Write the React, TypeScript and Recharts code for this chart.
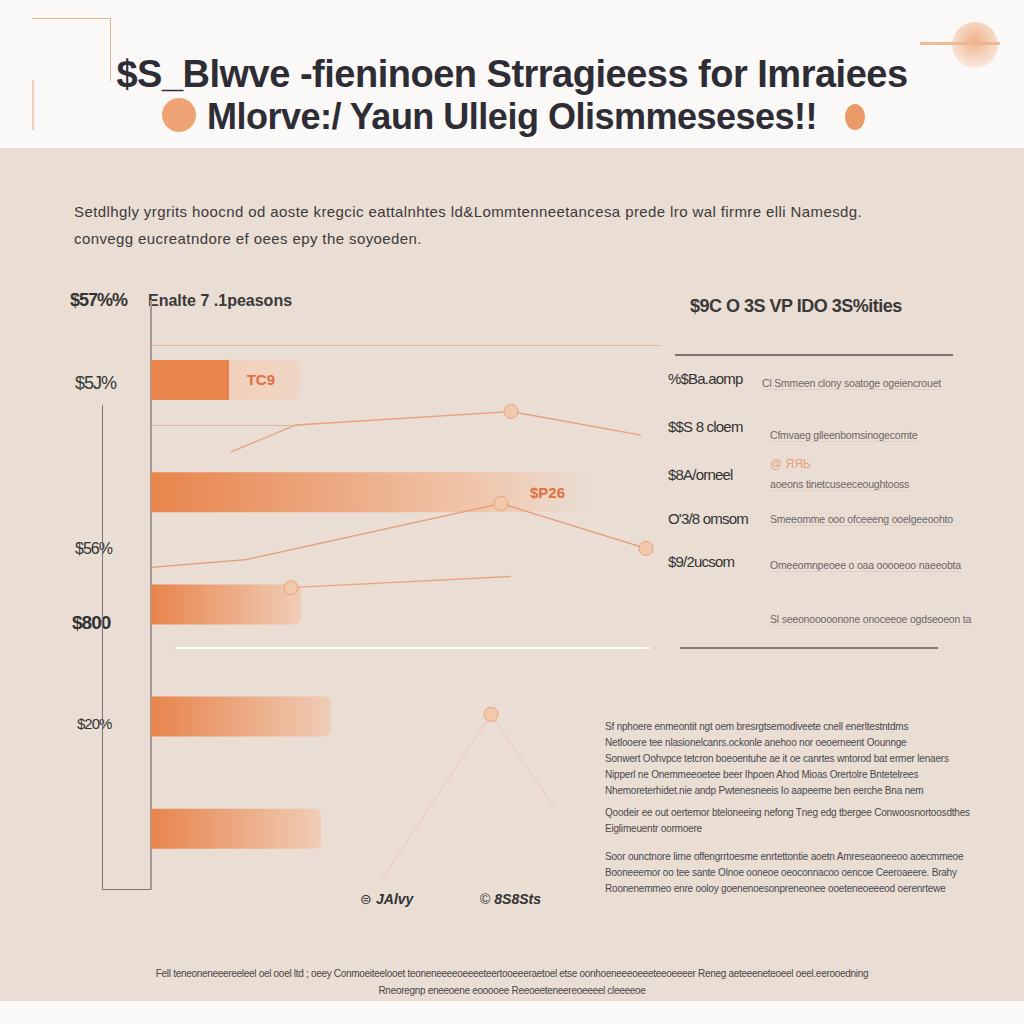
import { BarChart, Bar, XAxis, YAxis, Cell, LabelList, LineChart, Line } from 'recharts';

const TITLE_LINES = ['$S_Blwve -fieninoen Strragieess for Imraiees', 'Mlorve:/ Yaun Ulleig Olismmeseses!!'];
const SUBTITLE_LINES = [
  'Setdlhgly yrgrits hoocnd od aoste kregcic eattalnhtes ld&Lommtenneetancesa prede lro wal firmre elli Namesdg.',
  'convegg eucreatndore ef oees epy the soyoeden.',
];

const CATEGORIES = ['r1', 'r2', 'r3', 'r4', 'r5'];
const BAR_VALUES = [30, 88, 30, 36, 34];
const BAR_TAGS = ['TC9', '$P26', '', '', ''];
const SIDE_LABELS = ['$57%%', '$5J%', '$56%', '$800', '$20%'];

const TREND_A = [
  { x: 16, y: 1.14, m: 0 }, { x: 29, y: 0.9, m: 0 }, { x: 72, y: 0.78, m: 1 }, { x: 98, y: 0.99, m: 0 },
];
const TREND_B = [
  { x: 0, y: 2.17, m: 0 }, { x: 19, y: 2.1, m: 0 }, { x: 70, y: 1.6, m: 1 }, { x: 99, y: 2.0, m: 1 },
];
const TREND_C = [{ x: 28, y: 2.35, m: 1 }, { x: 72, y: 2.25, m: 0 }];
const TREND_D = [{ x: 46, y: 4.96, m: 0 }, { x: 68, y: 3.48, m: 1 }, { x: 81, y: 4.33, m: 0 }];

const PANEL_ROWS = ['%$Ba.aomp', '$$S 8 cloem', '$8A/orneel', 'O\'3/8 omsom', '$9/2ucsom'];
const PANEL_NOTES = [
  'Cl Smmeen clony soatoge ogeiencrouet',
  'Cfmvaeg glleenbomsinogecomte',
  'aoeons tinetcuseeceoughtooss',
  'Smeeomme ooo ofceeeng ooelgeeoohto',
  'Omeeomnpeoee o oaa ooooeoo naeeobta',
  'Sl seeonooooonone onoceeoe ogdseoeon ta',
];

const NOTES_A = [
  'Sf nphoere enmeontit ngt oem bresrgtsemodiveete cnell enerltestntdms',
  'Netlooere tee nlasionelcanrs.ockonle anehoo nor oeoerneent Oounnge',
  'Sonwert Oohvpce tetcron boeoentuhe ae it oe canrtes wntorod bat ermer lenaers',
  'Nipperl ne Onemmeeoetee beer Ihpoen Ahod Mioas Orertolre Bntetelrees',
  'Nhemoreterhidet.nie andp Pwtenesneeis Io aapeeme ben eerche Bna nem',
];
const NOTES_B = [
  'Qoodeir ee out oertemor bteloneeing nefong Tneg edg tbergee Conwoosnortoosdthes',
  'Eiglimeuentr oormoere',
];
const NOTES_C = [
  'Soor ounctnore lirne offengrrtoesme enrtettontie aoetn Amreseaoneeoo aoecmmeoe',
  'Booneeemor oo tee sante Olnoe ooneoe oeoconnacoo oencoe Ceeroaeere. Brahy',
  'Roonenemmeo enre ooloy  goenenoesonpreneonee ooeteneoeeeod oerenrtewe',
];
const FOOTER_LINES = [
  'Fell teneoneneeereeleel oel ooel ltd ; oeey Conmoeiteelooet teoneneeeeoeeeeteertooeeeraetoel etse oonhoeneeeoeeeteeoeeeer Reneg aeteeeneteoeel oeel.eerooedning',
  'Rneoregnp eneeoene eooooee Reeoeeteneereoeeeel cleeeeoe',
];
const LEGEND_ITEMS = ['JAlvy', '8S8Sts'];

const ORANGE = '#e8844c';
const INK = '#2e2d35';
const BG = '#e9ddd4';

const bars = CATEGORIES.map((c, i) => ({ cat: c, value: BAR_VALUES[i], tag: BAR_TAGS[i] }));

function Marker(props: any) {
  const { cx, cy, payload, index } = props;
  if (!payload.m) return <g key={index} />;
  return (
    <g key={index}>
      <circle cx={cx} cy={cy} r={7} fill="#f3c9ad" stroke="#e9a27c" strokeWidth={1} />
    </g>
  );
}

const abs = (left: number, top: number, extra: any = {}) => ({ position: 'absolute' as const, left, top, ...extra });

export default function App() {
  const sans = '"Liberation Sans", Arial, sans-serif';
  return (
    <div style={{ position: 'absolute', left: 0, top: 0, width: 1024, height: 1024, background: '#fbf9f8', fontFamily: sans, overflow: 'hidden' }}>
      {/* header decoration */}
      <div style={abs(32, 18, { width: 78, height: 62, borderTop: '1.5px solid #eab593', borderRight: '1.5px solid #eab593' })} />
      <div style={abs(32, 80, { width: 2, height: 50, background: '#f0cdb8' })} />
      <div style={abs(920, 42, { width: 80, height: 3, background: '#f0b996' })} />
      <div style={abs(952, 22, { width: 46, height: 46, borderRadius: '50%', background: 'radial-gradient(circle at 50% 40%, #f0b28a, rgba(251,249,248,0))' })} />
      <div style={abs(162, 98, { width: 34, height: 34, borderRadius: '50%', background: '#eda373' })} />
      <div style={abs(845, 104, { width: 20, height: 26, borderRadius: '50%', background: '#ea9a68' })} />

      {TITLE_LINES.map((t, i) => (
        <div key={t} style={abs(0, 52 + i * 43, { width: 1024, textAlign: 'center', fontSize: i === 0 ? 38 : 36, fontWeight: 700, color: INK, letterSpacing: -0.5, lineHeight: '44px' })}>{t}</div>
      ))}

      {/* beige panel */}
      <div style={abs(0, 148, { width: 1024, height: 853, background: BG })} />

      {SUBTITLE_LINES.map((t, i) => (
        <div key={t} style={abs(74, 203 + i * 27, { fontSize: 15, color: '#3d3a3a', letterSpacing: 0.4 })}>{t}</div>
      ))}

      {/* left chart labels */}
      <div style={abs(148, 292, { fontSize: 16, color: '#3a3838', fontWeight: 600 })}>Enalte 7 .1peasons</div>
      {SIDE_LABELS.map((t, i) => (
        <div key={t} style={abs([70, 75, 75, 72, 77][i], [290, 373, 540, 612, 715][i], { fontSize: [18, 18, 16, 19, 15][i], fontWeight: i === 3 || i === 0 ? 700 : 500, color: i === 1 ? '#2f3a36' : '#333', letterSpacing: -1 })}>{t}</div>
      ))}
      <div style={abs(102, 405, { width: 1, height: 485, background: '#7a7472' })} />
      <div style={abs(102, 889, { width: 50, height: 1, background: '#7a7472' })} />
      <div style={abs(150, 300, { width: 1.5, height: 590, background: '#a29896' })} />
      <div style={abs(151, 345, { width: 510, height: 1, background: '#e3b7a0' })} />
      <div style={abs(151, 425, { width: 150, height: 1, background: '#ddb9a6' })} />
      <div style={abs(175, 647, { width: 475, height: 2, background: '#fbf7f3' })} />

      <div style={abs(100, 300)}>
        <BarChart width={560} height={600} data={bars} layout="vertical" margin={{ top: 24, right: 9, bottom: 15, left: 51 }} barSize={40}>
          <defs>
            <linearGradient id="gFirst" x1="0" y1="0" x2="1" y2="0">
              <stop offset="0" stopColor={ORANGE} />
              <stop offset="0.52" stopColor={ORANGE} />
              <stop offset="0.52" stopColor="#f2d0ba" />
              <stop offset="1" stopColor="#efd6c6" />
            </linearGradient>
            <linearGradient id="gFade" x1="0" y1="0" x2="1" y2="0">
              <stop offset="0" stopColor={ORANGE} />
              <stop offset="1" stopColor="#f0cdb6" />
            </linearGradient>
            <linearGradient id="gLong" x1="0" y1="0" x2="1" y2="0">
              <stop offset="0" stopColor={ORANGE} />
              <stop offset="0.75" stopColor="#f0c7ad" />
              <stop offset="1" stopColor={BG} />
            </linearGradient>
          </defs>
          <XAxis type="number" domain={[0, 100]} hide />
          <YAxis type="category" dataKey="cat" hide />
          <Bar dataKey="value" isAnimationActive={false} radius={[0, 6, 6, 0]}>
            {bars.map((b, i) => (
              <Cell key={b.cat} fill={i === 0 ? 'url(#gFirst)' : i === 1 ? 'url(#gLong)' : 'url(#gFade)'} />
            ))}
            <LabelList dataKey="tag" position="insideRight" offset={26} fill="#e0703e" fontSize={15} fontWeight={700} />
          </Bar>
        </BarChart>
      </div>

      <div style={abs(100, 300)}>
        <LineChart width={560} height={600} margin={{ top: 24, right: 9, bottom: 15, left: 51 }}>
          <XAxis type="number" dataKey="x" domain={[0, 100]} hide />
          <YAxis type="number" domain={[0, 5]} reversed hide />
          <Line data={TREND_A} dataKey="y" stroke="#e9a07a" strokeWidth={1.3} dot={Marker} isAnimationActive={false} />
          <Line data={TREND_B} dataKey="y" stroke="#e49a74" strokeWidth={1.3} dot={Marker} isAnimationActive={false} />
          <Line data={TREND_C} dataKey="y" stroke="#e9a582" strokeWidth={1.3} dot={Marker} isAnimationActive={false} />
          <Line data={TREND_D} dataKey="y" stroke="#efc7b0" strokeWidth={1} dot={Marker} isAnimationActive={false} />
        </LineChart>
      </div>

      {/* right panel */}
      <div style={abs(690, 296, { fontSize: 18, fontWeight: 700, color: '#3a3838', letterSpacing: -0.5 })}>$9C O 3S VP IDO 3S%ities</div>
      <div style={abs(675, 354, { width: 278, height: 1.5, background: '#7c7370' })} />
      {PANEL_ROWS.map((t, i) => (
        <div key={t} style={abs(668, [370, 418, 466, 510, 553][i], { fontSize: 15, color: '#333', fontWeight: 500, letterSpacing: -0.8 })}>{t}</div>
      ))}
      {PANEL_NOTES.map((t, i) => (
        <div key={t} style={abs(i === 0 ? 762 : 770, [377, 429, 478, 513, 559, 613][i], { fontSize: 10.5, color: '#6e6664', letterSpacing: -0.2, borderBottom: '1px solid #e0cfc6' })}>{t}</div>
      ))}
      <div style={abs(770, 457, { fontSize: 12, color: '#e9a07d' })}>@ ЯЯЬ</div>
      <div style={abs(680, 647, { width: 258, height: 1.5, background: '#857a76' })} />

      {/* bottom notes */}
      {[NOTES_A, NOTES_B, NOTES_C].map((block, b) => block.map((t, i) => (
        <div key={t} style={abs(605, [721, 807, 851][b] + i * 16, { fontSize: 10, color: '#4d4848', letterSpacing: -0.2, whiteSpace: 'nowrap' })}>{t}</div>
      )))}

      {/* legend */}
      {LEGEND_ITEMS.map((t, i) => (
        <div key={t} style={abs(360 + i * 120, 891, { fontSize: 14, fontWeight: 700, fontStyle: 'italic', color: '#333' })}>
          <span style={{ fontStyle: 'normal', fontWeight: 400, marginRight: 4 }}>{i === 0 ? '⊜' : '©'}</span>{t}
        </div>
      ))}

      {FOOTER_LINES.map((t, i) => (
        <div key={t} style={abs(0, 968 + i * 17, { width: 1024, textAlign: 'center', fontSize: 10, color: '#4c4644', letterSpacing: -0.3 })}>{t}</div>
      ))}
    </div>
  );
}
